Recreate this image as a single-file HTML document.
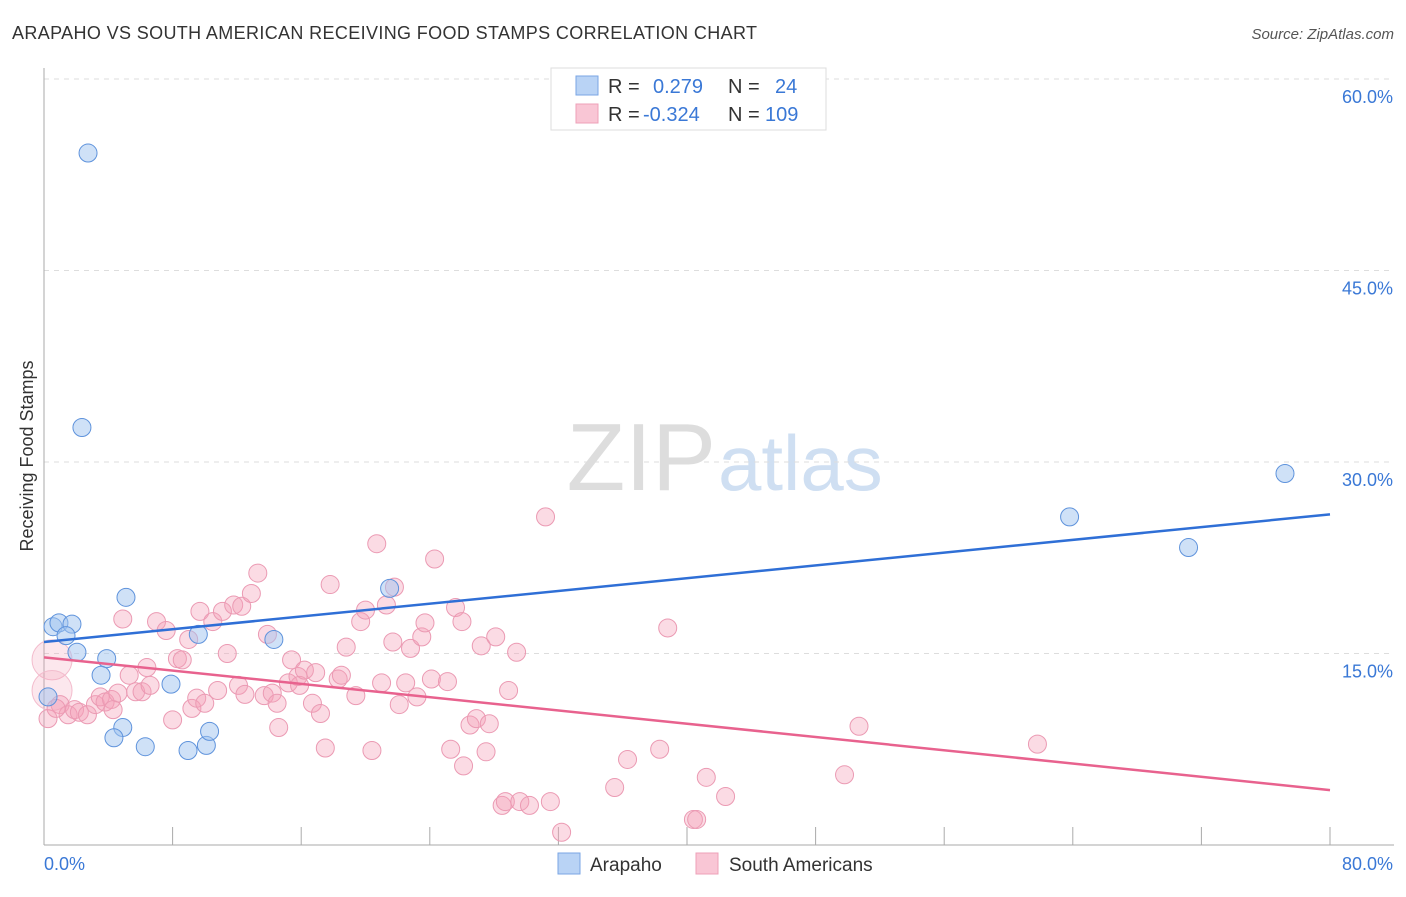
<!DOCTYPE html>
<html><head><meta charset="utf-8"><style>
body{margin:0;background:#fff;font-family:"Liberation Sans",sans-serif;}
svg text{font-family:"Liberation Sans",sans-serif;}
</style></head><body>
<svg id="chart" width="1406" height="892">
<text x="12" y="39" font-size="18" fill="#333" textLength="745">ARAPAHO VS SOUTH AMERICAN RECEIVING FOOD STAMPS CORRELATION CHART</text>
<text x="1394" y="39" font-size="15" fill="#555" font-style="italic" text-anchor="end">Source: ZipAtlas.com</text>
<text transform="translate(33,456) rotate(-90)" font-size="18" fill="#333" text-anchor="middle">Receiving Food Stamps</text>
<text x="716" y="490" font-size="96" fill="#ddd" text-anchor="end" font-family="Liberation Serif">ZIP</text>
<text x="718" y="490" font-size="78" fill="#cfdff2">atlas</text>
<g id="grid"></g><g id="axes"></g><g id="pts"></g><g id="lines"></g>
<g>
<rect x="551" y="68" width="275" height="62" fill="#fff" stroke="#ddd"/>
<rect x="576" y="76" width="22" height="19" fill="#b9d3f5" stroke="#7aa6e4"/>
<rect x="576" y="104" width="22" height="19" fill="#f9c6d5" stroke="#eea0b8"/>
<text x="608" y="93" font-size="20" fill="#333">R =</text>
<text x="653" y="93" font-size="20" fill="#3a78d6">0.279</text>
<text x="728" y="93" font-size="20" fill="#333">N =</text>
<text x="775" y="93" font-size="20" fill="#3a78d6">24</text>
<text x="608" y="121" font-size="20" fill="#333">R =</text>
<text x="643" y="121" font-size="20" fill="#3a78d6">-0.324</text>
<text x="728" y="121" font-size="20" fill="#333">N =</text>
<text x="765" y="121" font-size="20" fill="#3a78d6">109</text>
</g>
<g>
<rect x="558" y="853" width="22" height="21" fill="#b9d3f5" stroke="#7aa6e4"/>
<text x="590" y="871" font-size="19" fill="#333">Arapaho</text>
<rect x="696" y="853" width="22" height="21" fill="#f9c6d5" stroke="#eea0b8"/>
<text x="729" y="871" font-size="19" fill="#333">South Americans</text>
</g>
</svg>
<script>
const blueX=[2.74,2.36,0.25,0.56,0.93,1.74,1.37,2.05,5.1,3.9,3.55,4.9,4.35,6.3,7.9,9.6,8.96,10.1,10.3,14.3,21.5,63.8,71.2,77.2];
const blueY=[54.2,32.7,11.6,17.1,17.4,17.3,16.4,15.1,19.4,14.6,13.3,9.2,8.4,7.7,12.6,16.5,7.4,7.8,8.9,16.1,20.1,25.7,23.3,29.1];
const pinkX=[0.5,0.5,1.0,1.5,1.9,2.2,2.7,3.2,3.5,3.8,4.2,4.6,4.3,4.9,5.3,5.7,6.1,6.4,6.6,7.0,7.6,8.0,8.3,8.6,9.0,9.2,9.5,9.7,10.0,10.5,10.8,11.1,11.4,11.8,12.1,12.3,12.5,12.9,13.3,13.7,13.9,14.2,14.5,14.6,15.2,15.4,15.8,15.9,16.2,16.9,16.7,17.2,17.5,17.8,18.3,18.5,18.8,19.4,19.7,20.0,20.4,20.7,21.0,21.3,21.7,21.8,22.1,22.5,22.8,23.2,23.5,23.7,24.1,24.3,25.1,25.3,25.6,26.0,26.1,26.5,26.9,27.2,27.5,27.7,28.1,28.5,28.7,28.9,29.4,29.6,30.2,31.2,31.5,32.2,35.5,36.3,38.3,38.8,40.4,40.6,41.2,42.4,49.8,50.7,61.8,0.25,0.75];
const pinkY=[14.5,12.1,11.0,10.2,10.6,10.4,10.2,11.0,11.6,11.2,11.4,11.9,10.6,17.7,13.3,12.0,12.0,13.9,12.5,17.5,16.8,9.8,14.6,14.5,16.1,10.7,11.5,18.3,11.1,17.5,12.1,18.3,15.0,18.8,12.5,18.7,11.8,19.7,21.3,11.7,16.5,11.9,11.1,9.2,12.7,14.5,13.2,12.5,13.7,13.5,11.1,10.3,7.6,20.4,13.0,13.3,15.5,11.7,17.5,18.4,7.4,23.6,12.7,18.8,15.9,20.2,11.0,12.7,15.4,11.6,16.3,17.4,13.0,22.4,12.8,7.5,18.6,17.5,6.2,9.4,9.9,15.6,7.3,9.5,16.3,3.1,3.4,12.1,15.1,3.4,3.1,25.7,3.4,1.0,4.5,6.7,7.5,17.0,2.0,2.0,5.3,3.8,5.5,9.3,7.9,9.9,10.7];
const pinkR=[20,20];
const blueLine=[15.9,25.9];
const pinkLine=[14.7,4.3];
const yTicks=[15,30,45,60];
const xTicks=[0,8,16,24,32,40,48,56,64,72,80];
const X=v=>44+v/80*1286;
const Y=v=>845-v*191.5/15;
const NS='http://www.w3.org/2000/svg';
function mk(t,a,p){const e=document.createElementNS(NS,t);for(const k in a)e.setAttribute(k,a[k]);document.getElementById(p).appendChild(e);return e;}
yTicks.forEach(t=>{
 const l=mk('line',{x1:44,x2:1394,y1:Y(t),y2:Y(t),stroke:'#ddd','stroke-dasharray':'5,5'},'grid');
 
 
 const tx=mk('text',{x:1393,y:Y(t)+24,'font-size':18,fill:'#3a78d6','text-anchor':'end'},'grid');
 tx.textContent=t.toFixed(1)+'%';
 
 
});
let a=mk('line',{x1:44,x2:44,y1:68,y2:845,stroke:'#aaa'},'axes');


a=mk('line',{x1:44,x2:1394,y1:845,y2:845,stroke:'#aaa'},'axes');


xTicks.slice(1).forEach(t=>{
 const l=mk('line',{x1:X(t),x2:X(t),y1:827,y2:845,stroke:'#aaa'},'axes');
 
 
});
[[0,'start'],[80,'end']].forEach(([t,an])=>{
 const tx=mk('text',{x:an==='start'?44:1393,y:870,'font-size':18,fill:'#3a78d6','text-anchor':an},'axes');
 tx.textContent=t.toFixed(1)+'%';
 
 
});
pinkX.forEach((x,i)=>{
 const big=!!pinkR[i];
 const c=mk('circle',{cx:X(x),cy:Y(pinkY[i]),r:pinkR[i]||9,fill:big?'rgba(244,160,185,0.25)':'rgba(244,160,185,0.38)',stroke:big?'#f3bccd':'#eb9ab3','stroke-width':1},'pts');
 
 
});
blueX.forEach((x,i)=>{
 const c=mk('circle',{cx:X(x),cy:Y(blueY[i]),r:9,fill:'rgba(160,196,240,0.5)',stroke:'#5f93dc','stroke-width':1},'pts');
 
 
});
let ln=mk('line',{x1:X(0),x2:X(80),y1:Y(blueLine[0]),y2:Y(blueLine[1]),stroke:'#2f6fd6','stroke-width':2.5},'lines');


ln=mk('line',{x1:X(0),x2:X(80),y1:Y(pinkLine[0]),y2:Y(pinkLine[1]),stroke:'#e8628e','stroke-width':2.5},'lines');


</script>
</body></html>
